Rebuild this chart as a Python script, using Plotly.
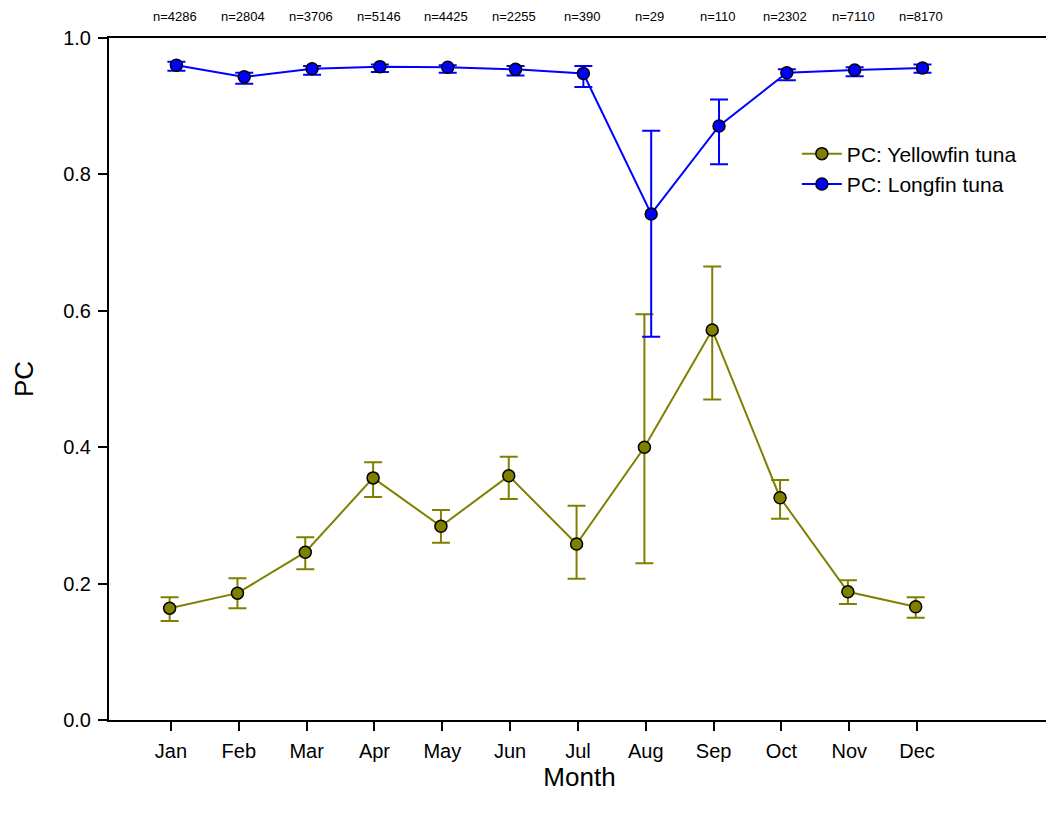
import plotly.graph_objects as go

months = ["Jan", "Feb", "Mar", "Apr", "May", "Jun", "Jul", "Aug", "Sep", "Oct", "Nov", "Dec"]
month_num = list(range(1, 13))
n_labels = ["n=4286", "n=2804", "n=3706", "n=5146", "n=4425", "n=2255",
            "n=390", "n=29", "n=110", "n=2302", "n=7110", "n=8170"]

yellowfin = [0.164, 0.186, 0.246, 0.355, 0.284, 0.358, 0.258, 0.400, 0.572, 0.326, 0.188, 0.166]
yellowfin_hi = [0.180, 0.208, 0.268, 0.378, 0.308, 0.386, 0.314, 0.595, 0.665, 0.352, 0.205, 0.180]
yellowfin_lo = [0.145, 0.164, 0.221, 0.327, 0.260, 0.324, 0.207, 0.230, 0.470, 0.295, 0.170, 0.150]

longfin = [0.960, 0.943, 0.955, 0.958, 0.957, 0.954, 0.948, 0.742, 0.871, 0.949, 0.953, 0.956]
longfin_hi = [0.965, 0.949, 0.959, 0.961, 0.960, 0.959, 0.959, 0.864, 0.910, 0.954, 0.957, 0.961]
longfin_lo = [0.952, 0.933, 0.946, 0.950, 0.949, 0.945, 0.928, 0.562, 0.815, 0.938, 0.944, 0.949]

YELLOW = "#808000"
BLUE = "#0000FF"

x_y = [m - 0.02 for m in month_num]
x_b = [m + 0.08 for m in month_num]

fig = go.Figure()
fig.add_trace(go.Scatter(
    x=x_y, y=yellowfin, mode="lines+markers", name="PC: Yellowfin tuna",
    line=dict(color=YELLOW, width=2),
    marker=dict(color=YELLOW, size=12, line=dict(color="black", width=1.5)),
    error_y=dict(type="data", symmetric=False,
                 array=[h - v for h, v in zip(yellowfin_hi, yellowfin)],
                 arrayminus=[v - l for v, l in zip(yellowfin, yellowfin_lo)],
                 color=YELLOW, thickness=2, width=9),
))
fig.add_trace(go.Scatter(
    x=x_b, y=longfin, mode="lines+markers", name="PC: Longfin tuna",
    line=dict(color=BLUE, width=2),
    marker=dict(color=BLUE, size=12, line=dict(color="black", width=1.5)),
    error_y=dict(type="data", symmetric=False,
                 array=[h - v for h, v in zip(longfin_hi, longfin)],
                 arrayminus=[v - l for v, l in zip(longfin, longfin_lo)],
                 color=BLUE, thickness=2, width=9),
))

for m, lab in zip(month_num, n_labels):
    fig.add_annotation(x=m + 0.06, y=1.0, xref="x", yref="paper", yshift=30,
                       text=lab, showarrow=False, xanchor="center", yanchor="top",
                       borderpad=0, font=dict(size=13, color="black"))

font_family = "Liberation Sans, Arial, sans-serif"
# margins compensate for the 8px default page margin of the HTML body
fig.update_layout(
    width=1054, height=818,
    margin=dict(l=101, r=12, t=30, b=106),
    paper_bgcolor="white", plot_bgcolor="white",
    font=dict(family=font_family, color="black"),
    showlegend=True,
    legend=dict(x=0.731, y=0.860, xanchor="left", yanchor="top",
                font=dict(size=21), bgcolor="rgba(0,0,0,0)", tracegroupgap=0,
                itemwidth=40),
    xaxis=dict(range=[0.086, 13.96], tickmode="array", tickvals=month_num, ticktext=months,
               showline=True, linecolor="black", linewidth=2, mirror=True,
               ticks="outside", ticklen=9, tickwidth=2, tickcolor="black",
               tickfont=dict(size=20), showgrid=False, zeroline=False,
               ticklabelstandoff=3, automargin=False,
               title=dict(text="Month", font=dict(size=26), standoff=6)),
    yaxis=dict(range=[0, 1.0], tickvals=[0, 0.2, 0.4, 0.6, 0.8, 1.0], tickformat=".1f",
               showline=True, linecolor="black", linewidth=2,
               ticks="outside", ticklen=9, tickwidth=2, tickcolor="black",
               tickfont=dict(size=20), showgrid=False, zeroline=False,
               ticklabelstandoff=3, automargin=False,
               title=dict(text="PC", font=dict(size=26), standoff=22)),
)

fig.write_html("out.html")
